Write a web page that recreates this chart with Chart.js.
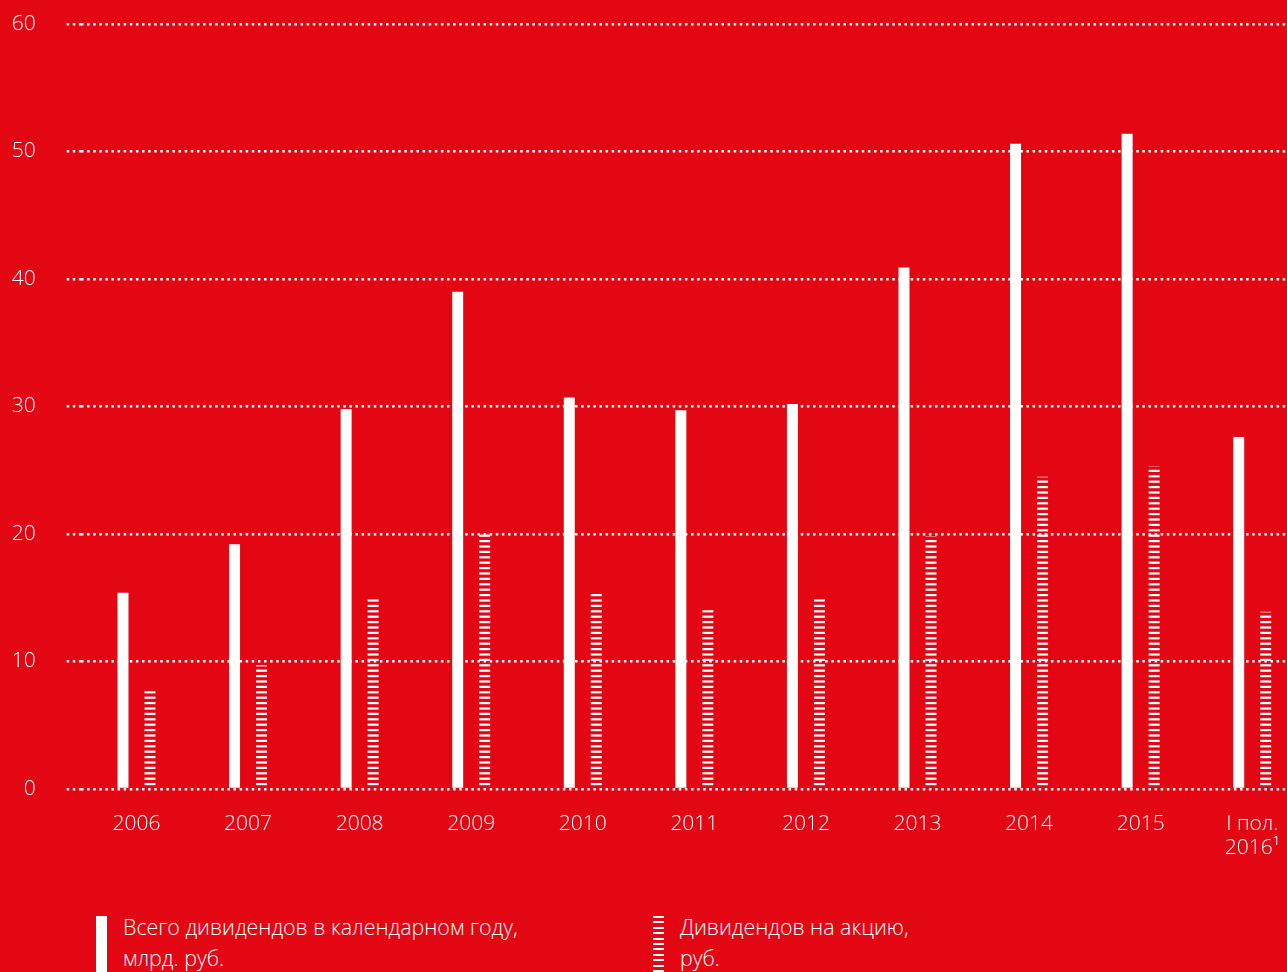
<!DOCTYPE html>
<html>
<head>
<meta charset="utf-8">
<script src="https://cdn.jsdelivr.net/npm/chart.js@4"></script>
<style>
    html, body { margin: 0; padding: 0; overflow: hidden; background: #E30613; }
    body { width: 1287px; height: 972px; position: relative; font-family: 'Open Sans', sans-serif; font-weight: 300; color: #fff; }
    #wrap { position: absolute; left: 0; top: 0; width: 1320px; height: 880px; }
    .legend-mark { position: absolute; top: 916px; width: 11px; height: 60px; }
    .solid { background: #fff; }
    .striped { background: repeating-linear-gradient(to bottom, #fff 0 2px, transparent 2px 5.4px); }
    .legend-text { position: absolute; top: 911px; font-size: 21.4px; line-height: 31px; }
</style>
</head>
<body>
<div id="wrap"><canvas id="divChart" width="1320" height="880"></canvas></div>

<div class="legend-mark solid" style="left:96px"></div>
<div class="legend-text" style="left:123px">Всего дивидендов в календарном году,<br>млрд. руб.</div>
<div class="legend-mark striped" style="left:653px"></div>
<div class="legend-text" style="left:680px">Дивидендов на акцию,<br>руб.</div>

<script>
// chart data
const years = ['2006', '2007', '2008', '2009', '2010', '2011', '2012', '2013', '2014', '2015', ['I пол.', '2016\u00B9']];
const totalDividends = [15.4, 19.2, 29.8, 39.0, 30.7, 29.7, 30.2, 40.9, 50.6, 51.4, 27.6]; // bn rub
const perShare = [7.8, 9.7, 14.9, 20.0, 15.4, 14.2, 14.9, 19.8, 24.5, 25.3, 13.9]; // rub
const yTicks = [0, 10, 20, 30, 40, 50, 60];

const FONT = "'Open Sans', sans-serif";

// horizontal stripes for the per-share bars
function makeStripes() {
    const c = document.createElement('canvas');
    c.width = 4;
    c.height = 27;
    const g = c.getContext('2d');
    g.fillStyle = '#fff';
    for (let i = 0; i < 5; i++) {
        g.fillRect(0, i * 5.4, 4, 2.2);
    }
    return g.createPattern(c, 'repeat');
}

const ctx = document.getElementById('divChart').getContext('2d');

new Chart(ctx, {
    type: 'bar',
    data: {
        labels: years,
        datasets: [
            {
                label: 'Всего дивидендов в календарном году, млрд. руб.',
                data: totalDividends,
                backgroundColor: '#fff',
                categoryPercentage: 0.484,
                barPercentage: 0.407
            },
            {
                label: 'Дивидендов на акцию, руб.',
                data: perShare,
                backgroundColor: makeStripes(),
                categoryPercentage: 0.484,
                barPercentage: 0.407
            }
        ]
    },
    options: {
        responsive: false,
        animation: false,
        layout: { padding: { top: 24, right: 12, left: 0, bottom: 0 } },
        plugins: {
            legend: { display: false },
            tooltip: { enabled: false }
        },
        scales: {
            x: {
                offset: true,
                grid: { display: false, drawTicks: false },
                border: { display: false },
                ticks: {
                    color: '#fff',
                    padding: 23,
                    font: { family: FONT, size: 21, weight: 300, lineHeight: 1.15 },
                    maxRotation: 0,
                    autoSkip: false
                },
                afterFit: (scale) => { scale.height = 91; }
            },
            y: {
                min: 0,
                max: 60,
                afterBuildTicks: (scale) => { scale.ticks = yTicks.map(v => ({ value: v })); },
                grid: {
                    color: '#fff',
                    lineWidth: 2.5,
                    drawTicks: true,
                    tickLength: 14,
                    tickColor: '#fff',
                    tickWidth: 2.5,
                    tickBorderDash: [2.5, 3.6]
                },
                border: { display: false, dash: [2.5, 3.6] },
                ticks: {
                    color: '#fff',
                    padding: 31,
                    font: { family: FONT, size: 21, weight: 300 }
                },
                afterFit: (scale) => {
                    scale.width = 80.7;
                    // keep the label padding from pushing the plot down
                    scale.paddingTop = 0;
                    scale.paddingBottom = 0;
                }
            }
        }
    }
});
</script>
</body>
</html>
